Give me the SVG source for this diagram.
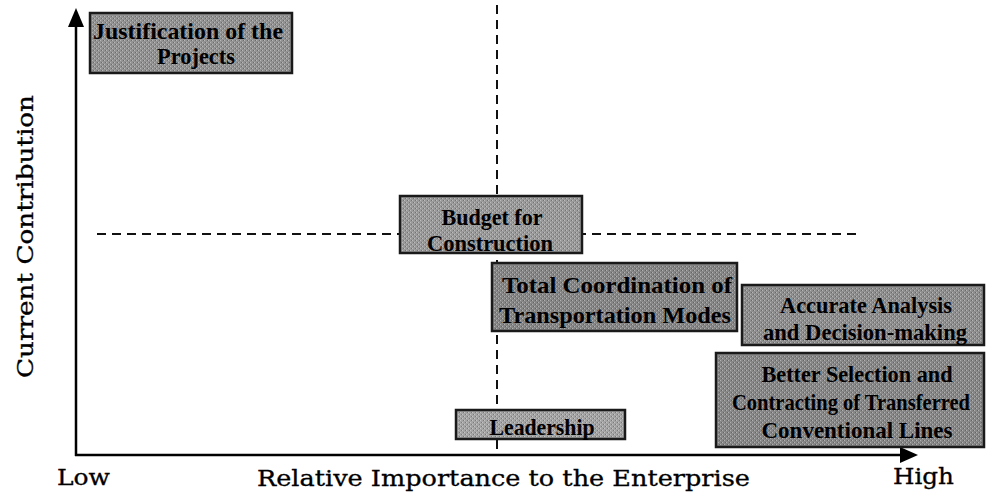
<svg xmlns="http://www.w3.org/2000/svg" width="987" height="497" viewBox="0 0 987 497">
<style>
.axis{stroke:#000;stroke-width:2.5;fill:none}
.dash{stroke:#111;stroke-width:2;stroke-dasharray:9 6;fill:none}
.box{stroke:#1a1a1a;stroke-width:2.5}
.tex{fill:url(#dither);stroke:none}
.bt{font-family:"Liberation Serif","Times New Roman",serif;font-weight:bold;font-size:24px;fill:#000;text-anchor:middle}
.sm{font-size:23px}
.lab{font-family:"DejaVu Serif","Liberation Serif",serif;font-size:22px;fill:#000;stroke:#000;stroke-width:0.3}
</style>
<defs>
<pattern id="dither" width="4" height="4" patternUnits="userSpaceOnUse">
<rect x="0" y="0" width="1" height="1" fill="#fff" fill-opacity="0.35"/>
<rect x="2" y="2" width="1" height="1" fill="#fff" fill-opacity="0.35"/>
<rect x="1" y="2" width="1" height="1" fill="#000" fill-opacity="0.25"/>
<rect x="3" y="0" width="1" height="1" fill="#000" fill-opacity="0.25"/>
</pattern>
</defs>
<rect width="987" height="497" fill="#fff"/>
<g id="connectors">
<line class="dash" x1="497" y1="5" x2="497" y2="455"/>
<line class="dash" x1="97" y1="234" x2="862" y2="234"/>
</g>
<g id="axes">
<line class="axis" x1="76" y1="456" x2="76" y2="24"/>
<polygon points="76,8 68,27 84,27" fill="#000"/>
<line class="axis" x1="75" y1="455" x2="902" y2="455"/>
<polygon points="918,455 900,447 900,463" fill="#000"/>
</g>
<g id="labels">
<text class="lab" transform="translate(33,236.5) rotate(-90)" text-anchor="middle" textLength="283" lengthAdjust="spacingAndGlyphs">Current Contribution</text>
<text class="lab" x="57" y="485" textLength="53" lengthAdjust="spacingAndGlyphs">Low</text>
<text class="lab" x="257" y="486" textLength="493" lengthAdjust="spacingAndGlyphs">Relative Importance to the Enterprise</text>
<text class="lab" x="893" y="484" textLength="61" lengthAdjust="spacingAndGlyphs">High</text>
</g>
<g id="node-justification">
<rect class="box" x="90" y="13" width="202" height="60" fill="#929292"/>
<rect class="tex" x="92" y="15" width="198" height="56"/>
<text class="bt" x="188" y="39" textLength="190" lengthAdjust="spacingAndGlyphs">Justification of the</text>
<text class="bt" x="196" y="64" textLength="78" lengthAdjust="spacingAndGlyphs">Projects</text>
</g>
<g id="node-budget">
<rect class="box" x="400" y="196" width="182" height="57" fill="#9a9a9a"/>
<rect class="tex" x="402" y="198" width="178" height="53"/>
<text class="bt" x="492" y="225" textLength="101" lengthAdjust="spacingAndGlyphs">Budget for</text>
<text class="bt" x="490" y="251" textLength="126" lengthAdjust="spacingAndGlyphs">Construction</text>
</g>
<g id="node-total">
<rect class="box" x="492" y="263" width="245" height="68" fill="#868686"/>
<rect class="tex" x="494" y="265" width="241" height="64"/>
<text class="bt" x="617" y="293" textLength="230" lengthAdjust="spacingAndGlyphs">Total Coordination of</text>
<text class="bt" x="615" y="323" textLength="232" lengthAdjust="spacingAndGlyphs">Transportation Modes</text>
</g>
<g id="node-accurate">
<rect class="box" x="742" y="285" width="242" height="60" fill="#8e8e8e"/>
<rect class="tex" x="744" y="287" width="238" height="56"/>
<text class="bt" x="866" y="313" textLength="172" lengthAdjust="spacingAndGlyphs">Accurate Analysis</text>
<text class="bt" x="865" y="340" textLength="204" lengthAdjust="spacingAndGlyphs">and Decision-making</text>
</g>
<g id="node-better">
<rect class="box" x="716" y="353" width="268" height="94" fill="#878787"/>
<rect class="tex" x="718" y="355" width="264" height="90"/>
<text class="bt sm" x="857" y="382" textLength="191" lengthAdjust="spacingAndGlyphs">Better Selection and</text>
<text class="bt sm" x="851" y="410" textLength="238" lengthAdjust="spacingAndGlyphs">Contracting of Transferred</text>
<text class="bt sm" x="857" y="438" textLength="191" lengthAdjust="spacingAndGlyphs">Conventional Lines</text>
</g>
<g id="node-leadership">
<rect class="box" x="456" y="410" width="169" height="29" fill="#a4a4a4"/>
<rect class="tex" x="458" y="412" width="165" height="25"/>
<text class="bt" x="542" y="435" textLength="105" lengthAdjust="spacingAndGlyphs">Leadership</text>
</g>
</svg>
